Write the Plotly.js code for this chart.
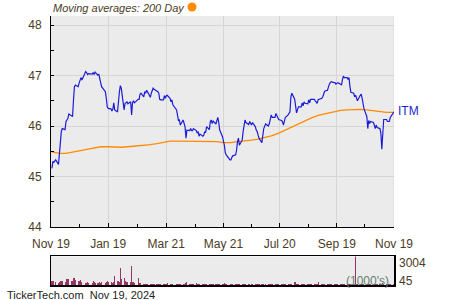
<!DOCTYPE html>
<html>
<head>
<meta charset="utf-8">
<script src="https://cdn.plot.ly/plotly-3.0.1.min.js"></script>
<style>html,body{margin:0;padding:0;background:#fff;}#chart{width:450px;height:300px;}</style>
</head>
<body>
<div id="chart"></div>
<script>
// ---- data ----
const startDate = '2023-11-20';
const endDate = '2024-11-19';
const holidays = ['2023-11-23','2023-12-25','2024-01-01','2024-01-15','2024-02-19','2024-03-29','2024-05-27','2024-06-19','2024-07-04','2024-09-02'];

const closePrices = [
45.16,45.30,45.28,45.33,45.24,45.45,45.78,45.89,45.95,45.93,
46.09,46.13,46.15,46.24,46.20,46.19,46.51,46.78,46.81,46.78,
46.85,46.92,46.96,46.91,47.08,47.06,47.02,47.04,47.03,47.06,
47.02,47.07,47.01,47.03,46.91,46.86,46.78,46.68,46.55,46.38,
46.35,46.34,46.30,46.33,46.46,46.32,46.28,46.52,46.68,46.80,
46.75,46.32,46.45,46.46,46.48,46.44,46.48,46.22,46.46,46.50,
46.46,46.53,46.53,46.63,46.65,46.58,46.68,46.65,46.71,46.68,
46.57,46.65,46.71,46.75,46.73,46.70,46.68,46.65,46.53,46.52,
46.52,46.60,46.55,46.60,46.61,46.55,46.48,46.52,46.42,46.32,
46.15,46.11,46.12,46.02,46.12,46.02,45.99,45.76,45.92,45.91,
45.95,45.91,45.91,45.95,45.91,45.86,45.89,45.80,45.84,45.80,
45.82,45.89,45.87,45.99,45.93,46.09,46.12,46.05,46.10,46.04,
46.13,46.17,46.07,45.92,45.79,45.71,45.62,45.47,45.43,45.33,
45.33,45.38,45.41,45.43,45.52,45.69,45.76,45.62,45.72,45.89,
46.04,46.12,46.07,46.03,46.09,
46.02,46.07,45.99,45.92,45.89,45.82,45.76,45.67,45.87,45.95,
46.04,46.00,46.05,46.17,46.22,46.17,46.17,46.25,46.20,46.17,
46.13,46.11,46.09,46.02,46.11,46.17,46.22,46.25,46.28,46.58,
46.65,46.53,46.38,46.26,46.32,46.38,46.38,46.46,46.40,46.48,
46.45,46.44,46.52,46.46,46.53,46.53,
46.53,46.50,46.46,46.45,46.52,46.55,46.58,46.65,46.69,46.71,
46.78,46.83,46.86,46.88,46.86,46.86,46.83,46.85,46.86,46.83,
46.81,46.92,46.99,46.96,46.96,46.92,46.96,46.78,46.67,46.65,
46.58,46.61,46.53,46.50,46.61,46.63,46.55,46.40,46.34,46.19,
45.95,46.11,46.05,46.09,46.07,46.02,45.95,46.02,45.97,45.95,
45.86,45.54,45.92,46.13,46.13,46.09,46.09,46.09,46.17,46.24,
46.28
];

// 200-day moving average, sampled every 5 trading days (plus last day)
const movingAvg = [
45.49,45.46,45.46,45.48,45.51,45.54,45.57,45.59,45.59,45.58,
45.58,45.59,45.60,45.61,45.63,45.65,45.68,45.70,45.70,45.70,
45.70,45.70,45.70,45.70,45.69,45.67,45.67,45.69,45.70,45.72,
45.74,45.77,45.81,45.86,45.92,45.99,46.05,46.11,46.16,46.21,
46.25,46.28,46.31,46.32,46.33,46.33,46.32,46.30,46.28,46.27,
46.27,46.27
];

// volume in thousands
const volumes = [
420,380,450,300,260,350,420,460,380,300,
520,600,650,580,450,380,700,720,480,420,
450,500,380,300,260,230,280,250,220,380,
300,260,240,220,280,240,300,260,350,420,
280,340,300,260,320,940,420,380,300,1810,
600,700,450,330,300,280,320,2020,350,300,
180,700,260,160,330,150,120,140,100,120,
110,130,150,100,120,90,110,130,100,150,
120,110,140,100,180,120,110,130,100,140,
120,150,130,110,140,100,260,230,280,110,
140,120,100,130,250,150,120,100,130,140,
110,120,140,130,100,120,110,150,130,120,
140,100,120,130,110,150,160,140,120,110,
130,120,100,140,110,130,120,140,150,110,
120,100,130,140,110,120,130,100,120,140,
110,130,120,140,100,110,120,130,110,100,
120,140,130,110,120,100,130,140,110,120,
130,110,120,100,140,130,300,280,120,110,
130,120,100,140,110,130,120,140,110,100,
120,130,110,140,120,300,130,110,120,140,
110,130,120,100,140,110,120,130,110,120,
130,110,100,120,140,110,130,120,100,110,
120,130,3004,140,110,120,130,100,120,110,
140,130,120,110,100,130,120,140,110,120,
130,110,140,250,120,130,110,120,140,130,
120,110
];

const tickDates = ['2023-11-19','2024-01-19','2024-03-21','2024-05-21','2024-07-20','2024-09-19','2024-11-19'];
const tickLabels = ['Nov 19','Jan 19','Mar 21','May 21','Jul 20','Sep 19','Nov 19'];
const minorTickDates = ['2023-12-19','2024-02-19','2024-04-21','2024-06-20','2024-08-20','2024-10-19'];
const ticker = 'ITM';
const volMaxLabel = '3004';
const volMinLabel = '45';

// ---- trading-day calendar ----
function tradingDays(s, e, hol) {
  const out = [];
  const d = new Date(s + 'T00:00:00Z');
  const end = new Date(e + 'T00:00:00Z');
  while (d <= end) {
    const wd = d.getUTCDay();
    const iso = d.toISOString().slice(0, 10);
    if (wd !== 0 && wd !== 6 && hol.indexOf(iso) < 0) out.push(iso);
    d.setUTCDate(d.getUTCDate() + 1);
  }
  return out;
}
const dates = tradingDays(startDate, endDate, holidays);
const n = Math.min(dates.length, closePrices.length);
const priceDates = dates.slice(dates.length - n);
const prices = closePrices.slice(closePrices.length - n);
const maDates = [];
for (let k = 0; k < movingAvg.length - 1; k++) maDates.push(priceDates[Math.min(k * 5, n - 1)]);
maDates.push(priceDates[n - 1]);
const volDates = priceDates.slice(0, volumes.length);

const FONT = 'Arial, "Liberation Sans", sans-serif';
const TXT = '#4a3c1e';
const xRange = ['2023-11-19', '2024-11-19'];

const traces = [
  { x: volDates, y: volumes, type: 'bar', xaxis: 'x2', yaxis: 'y2',
    marker: { color: '#993366', line: { width: 0 } }, hoverinfo: 'skip' },
  { x: maDates, y: movingAvg, type: 'scatter', mode: 'lines',
    line: { color: '#ff8c00', width: 1.3 }, hoverinfo: 'skip' },
  { x: priceDates, y: prices, type: 'scatter', mode: 'lines',
    line: { color: '#1c1cd8', width: 1.2 }, hoverinfo: 'skip' }
];

const layout = {
  width: 450, height: 300,
  margin: { l: 51, r: 56, t: 16, b: 15 },
  paper_bgcolor: '#ffffff', plot_bgcolor: '#ebebeb',
  showlegend: false, bargap: 0,
  font: { family: FONT, size: 12, color: TXT },
  xaxis: {
    type: 'date', range: xRange, domain: [0, 1], anchor: 'y',
    tickmode: 'array', tickvals: tickDates, ticktext: tickLabels,
    ticks: 'inside', ticklen: 4, tickcolor: '#000', ticklabelstandoff: 6,
    showgrid: true, gridcolor: '#d6d6d6', gridwidth: 1,
    showline: true, linecolor: '#000', linewidth: 1, zeroline: false,
    minor: { tickvals: minorTickDates, ticks: 'inside', ticklen: 3, tickcolor: '#000', showgrid: false },
    tickfont: { family: FONT, size: 12, color: TXT }
  },
  yaxis: {
    domain: [0.2156, 1], range: [44, 48.18], anchor: 'x',
    tickmode: 'array', tickvals: [44, 45, 46, 47, 48],
    ticks: 'inside', ticklen: 3, tickcolor: '#000', ticklabelstandoff: 6,
    showgrid: true, gridcolor: '#d6d6d6', gridwidth: 1,
    showline: true, linecolor: '#000', linewidth: 1, zeroline: false,
    minor: { tickvals: [44.5, 45.5, 46.5, 47.5], ticks: 'inside', ticklen: 3, tickcolor: '#000', showgrid: false },
    tickfont: { family: FONT, size: 12, color: TXT }
  },
  xaxis2: {
    type: 'date', range: xRange, domain: [0, 1], anchor: 'y2',
    showticklabels: false, ticks: '', showgrid: false, zeroline: false,
    showline: true, mirror: true, linecolor: '#000', linewidth: 1.5
  },
  yaxis2: {
    domain: [0, 0.106], range: [0, 3004], anchor: 'x2',
    showticklabels: false, ticks: '', showgrid: false, zeroline: false,
    showline: true, mirror: true, linecolor: '#000', linewidth: 1.5
  },
  shapes: [
    { type: 'line', xref: 'x', yref: 'y domain', x0: xRange[1], x1: xRange[1], y0: 0, y1: 1,
      line: { color: '#d6d6d6', width: 1 }, layer: 'below' },
    { type: 'circle', xref: 'paper', yref: 'paper', xsizemode: 'pixel', ysizemode: 'pixel',
      xanchor: 0.411, yanchor: 1.0335, x0: -4.5, x1: 4.5, y0: -4.5, y1: 4.5,
      fillcolor: '#ff8c00', line: { width: 0 } }
  ],
  annotations: [
    { xref: 'paper', yref: 'paper', x: 0, y: 1.0297, xanchor: 'left', yanchor: 'middle',
      text: '<i>Moving averages: 200 Day</i>', showarrow: false,
      font: { family: FONT, size: 11, color: TXT } },
    { xref: 'x', yref: 'y', x: priceDates[n - 1], y: prices[n - 1], xanchor: 'left', yanchor: 'middle',
      xshift: 2, yshift: 1, text: ticker, showarrow: false, font: { family: FONT, size: 12, color: '#1c1cd8' } },
    { xref: 'paper', yref: 'paper', x: 1.01, y: 0.0818, xanchor: 'left', yanchor: 'middle',
      text: volMaxLabel, showarrow: false, font: { family: FONT, size: 12, color: TXT } },
    { xref: 'paper', yref: 'paper', x: 1.01, y: 0.0149, xanchor: 'left', yanchor: 'middle',
      text: volMinLabel, showarrow: false, font: { family: FONT, size: 12, color: TXT } },
    { xref: 'paper', yref: 'paper', x: 0.991, y: 0.0149, xanchor: 'right', yanchor: 'middle',
      text: "(1000's)", showarrow: false, font: { family: FONT, size: 12, color: '#5f8070' } },
    { xref: 'paper', yref: 'paper', x: -0.1341, y: -0.0372, xanchor: 'left', yanchor: 'middle',
      text: 'TickerTech.com  Nov 19, 2024', showarrow: false, font: { family: FONT, size: 11, color: '#222' } }
  ]
};

Plotly.newPlot('chart', traces, layout, { staticPlot: true, displayModeBar: false });
</script>
</body>
</html>
